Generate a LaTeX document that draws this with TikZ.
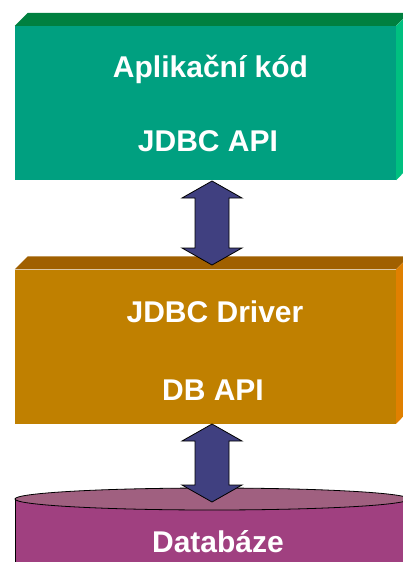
\documentclass[tikz,border=0pt]{standalone}
\usepackage{fontspec}
\setmainfont{Liberation Sans}
\usepackage{tikz}

\definecolor{appfront}{HTML}{00A080}
\definecolor{apptop}{HTML}{008040}
\definecolor{appside}{HTML}{00C080}
\definecolor{drvfront}{HTML}{C08000}
\definecolor{drvtop}{HTML}{A06000}
\definecolor{drvside}{HTML}{E08000}
\definecolor{dbbody}{HTML}{A04080}
\definecolor{dbtop}{HTML}{A06080}
\definecolor{linkcol}{HTML}{404080}

\tikzset{
  layer/.style={inner sep=0, minimum width=381pt, minimum height=154pt},
  label/.style={text=white, font=\fontsize{30}{36}\selectfont\bfseries},
  link/.style={draw=black, line width=0.8pt, fill=linkcol, line join=miter}
}

\begin{document}
\begin{tikzpicture}[x=1pt,y=-1pt]
\clip (0,0) rectangle (403,562);

\node[layer, fill=appfront] (app) at (205.5,103){};
\fill[apptop] (app.north west) -- ++(13,-13) -- ++(381,0) -- (app.north east) -- cycle;
\fill[appside] (app.north east) -- ++(13,-13) -- ++(0,154) -- (app.south east) -- cycle;
\node[label] (appcode) at (210.5,69){Aplikační kód};
\node[label] (jdbcapi) at (208,141){JDBC API};

\node[layer, fill=drvfront] (drv) at (205.5,346.5){};
\fill[drvtop] (drv.north west) -- ++(13,-13) -- ++(381,0) -- (drv.north east) -- cycle;
\fill[drvside] (drv.north east) -- ++(13,-13) -- ++(0,154) -- (drv.south east) -- cycle;
\node[label] (driver) at (215,312){JDBC Driver};
\node[label] (dbapi) at (213,390){DB API};

\fill[dbbody] (15,499) rectangle (409,580);
\draw[line width=0.8pt] (15,499) -- (15,580);
\filldraw[fill=dbtop, line width=0.8pt] (212,499) ellipse (197 and 11);
\node[label] (db) at (218,542){Databáze};

\coordinate (a1) at (212,181);\coordinate (b1) at (212,265);
\coordinate (a2) at (212,424);\coordinate (b2) at (212,502);

\draw[link] (a1) -- ++(30,17) -- ++(-13,0) -- ++(0,50) -- ++(13,0) -- (b1) -- ++(-30,-17) -- ++(13,0) -- ++(0,-50) -- ++(-13,0) -- cycle;
\draw[link] (a2) -- ++(30,17) -- ++(-13,0) -- ++(0,44) -- ++(13,0) -- (b2) -- ++(-30,-17) -- ++(13,0) -- ++(0,-44) -- ++(-13,0) -- cycle;
\end{tikzpicture}
\end{document}
